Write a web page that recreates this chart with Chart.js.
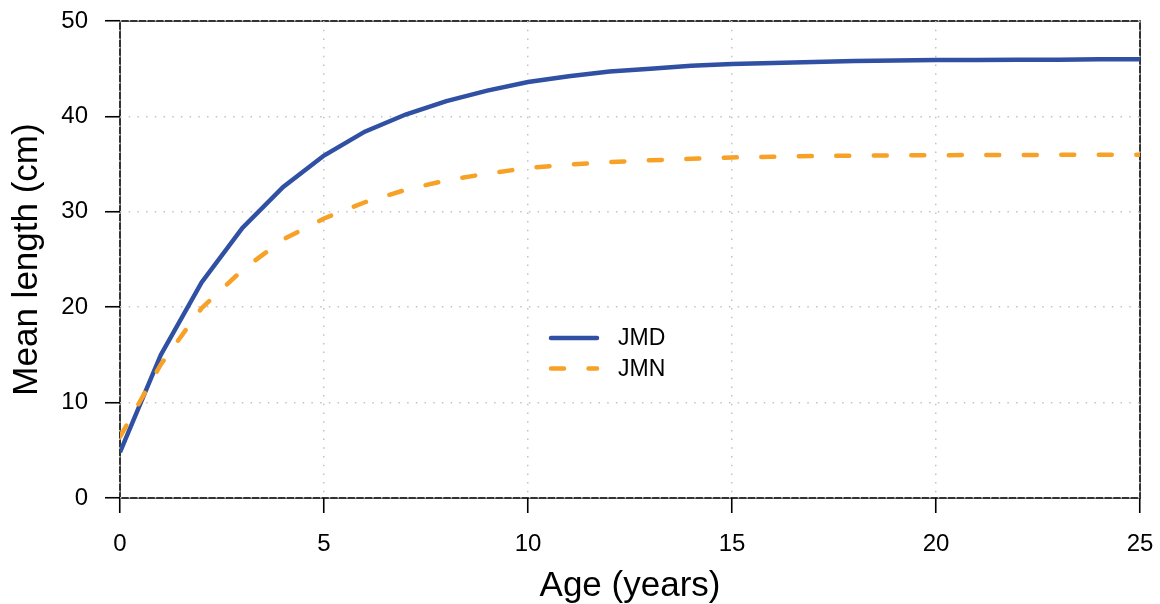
<!DOCTYPE html>
<html>
<head>
<meta charset="utf-8">
<title>Mean length at age</title>
<script src="https://cdn.jsdelivr.net/npm/chart.js@4/dist/chart.umd.min.js"></script>
<style>
  html, body { margin: 0; padding: 0; background: #ffffff; }
  #wrap { width: 1160px; height: 604px; }
</style>
</head>
<body>
<div id="wrap"><canvas id="growth" width="1160" height="604"></canvas></div>
<script>
// Age in years
const ages = [0, 1, 2, 3, 4, 5, 6, 7, 8, 9, 10, 11, 12, 13, 14, 15, 16, 17, 18, 19, 20, 21, 22, 23, 24, 25];
// Mean length (cm) at each age
const jmdLength = [4.8, 15.0, 22.6, 28.3, 32.6, 35.9, 38.4, 40.2, 41.6, 42.7, 43.6, 44.2, 44.7, 45.0, 45.3, 45.5, 45.6, 45.7, 45.8, 45.85, 45.9, 45.9, 45.95, 45.95, 46.0, 46.0];
const jmnLength = [6.4, 14.0, 19.9, 23.9, 27.1, 29.3, 31.0, 32.3, 33.3, 34.0, 34.6, 34.95, 35.2, 35.4, 35.55, 35.7, 35.77, 35.84, 35.88, 35.91, 35.93, 35.95, 35.96, 35.97, 35.98, 35.98];
const seriesNames = ['JMD', 'JMN'];
const xTicks = [0, 5, 10, 15, 20, 25];
const yTicks = [0, 10, 20, 30, 40, 50];

const FONT = '"Liberation Sans", Arial, Helvetica, sans-serif';
const BLUE = '#3050a3';
const ORANGE = '#f7a126';
const GRID = '#c2c2c2';

const toPoints = vals => ages.map((a, i) => ({ x: a, y: vals[i] }));

// Solid black frame, drawn first so the dotted grid sits on top of it
const framePlugin = {
  id: 'frame',
  beforeDraw(chart) {
    const { ctx, chartArea: a } = chart;
    ctx.save();
    ctx.strokeStyle = '#000';
    ctx.lineWidth = 1.6;
    ctx.strokeRect(a.left, a.top, a.right - a.left, a.bottom - a.top);
    ctx.restore();
  }
};

// Inset legend with line samples
const insetLegend = {
  id: 'insetLegend',
  afterDatasetsDraw(chart) {
    const { ctx, chartArea: a } = chart;
    const w = a.right - a.left, h = a.bottom - a.top;
    const x0 = a.left + 0.4206 * w;
    const y0 = a.top + 0.6645 * h;
    const rowGap = 30.5;
    const sampleLen = 48;
    ctx.save();
    chart.data.datasets.slice().sort((p, q) => p.legendRank - q.legendRank).forEach((ds, i) => {
      const y = y0 + i * rowGap;
      ctx.beginPath();
      ctx.strokeStyle = ds.borderColor;
      ctx.lineWidth = ds.borderWidth;
      ctx.lineCap = 'round';
      ctx.setLineDash(ds.borderDash || []);
      ctx.moveTo(x0 + 2, y);
      ctx.lineTo(x0 + sampleLen, y);
      ctx.stroke();
      ctx.setLineDash([]);
      ctx.fillStyle = '#000';
      ctx.font = '23px ' + FONT;
      ctx.textBaseline = 'middle';
      ctx.textAlign = 'left';
      ctx.fillText(ds.label, x0 + sampleLen + 21, y + 1);
    });
    ctx.restore();
  }
};

new Chart(document.getElementById('growth'), {
  type: 'line',
  data: {
    datasets: [
      {
        label: seriesNames[0],
        legendRank: 0,
        data: toPoints(jmdLength),
        borderColor: BLUE,
        borderWidth: 4.5,
        tension: 0,
        pointRadius: 0,
        fill: false,
        order: 1
      },
      {
        label: seriesNames[1],
        legendRank: 1,
        data: toPoints(jmnLength),
        borderColor: ORANGE,
        borderWidth: 4.5,
        borderDash: [13, 24.5],
        borderCapStyle: 'round',
        tension: 0,
        pointRadius: 0,
        fill: false,
        order: 0
      }
    ]
  },
  options: {
    responsive: false,
    animation: false,
    devicePixelRatio: 1,
    layout: { padding: { top: 21, right: 20, left: 0, bottom: 0 } },
    plugins: { legend: { display: false }, tooltip: { enabled: false }, title: { display: false } },
    scales: {
      x: {
        type: 'linear',
        min: 0,
        max: 25,
        afterFit(scale) {
          scale.height = 106;
          scale.paddingLeft = 0;
          scale.paddingRight = 0;
        },
        afterBuildTicks(scale) { scale.ticks = xTicks.map(v => ({ value: v })); },
        ticks: {
          color: '#000',
          font: { family: FONT, size: 24 },
          padding: 17,
          maxRotation: 0
        },
        grid: {
          color: GRID,
          lineWidth: 1.5,
          drawTicks: true,
          tickLength: 15,
          tickColor: '#000',
          tickWidth: 1.6,
          tickBorderDash: []
        },
        border: { display: false, dash: [1.5, 7.2] },
        title: {
          display: true,
          text: 'Age (years)',
          color: '#000',
          font: { family: FONT, size: 35, lineHeight: 1 },
          padding: { top: 0, bottom: 0 }
        }
      },
      y: {
        min: 0,
        max: 50,
        afterFit(scale) {
          scale.width = 120;
          scale.paddingTop = 0;
          scale.paddingBottom = 0;
        },
        afterBuildTicks(scale) { scale.ticks = yTicks.map(v => ({ value: v })); },
        ticks: {
          color: '#000',
          font: { family: FONT, size: 24 },
          padding: 17
        },
        grid: {
          color: GRID,
          lineWidth: 1.5,
          drawTicks: true,
          tickLength: 15,
          tickColor: '#000',
          tickWidth: 1.6,
          tickBorderDash: []
        },
        border: { display: false, dash: [1.5, 7.2] },
        title: {
          display: true,
          text: 'Mean length (cm)',
          color: '#000',
          font: { family: FONT, size: 35, lineHeight: 1 },
          padding: { top: 10, bottom: 0 }
        }
      }
    }
  },
  plugins: [framePlugin, insetLegend]
});
</script>
</body>
</html>
